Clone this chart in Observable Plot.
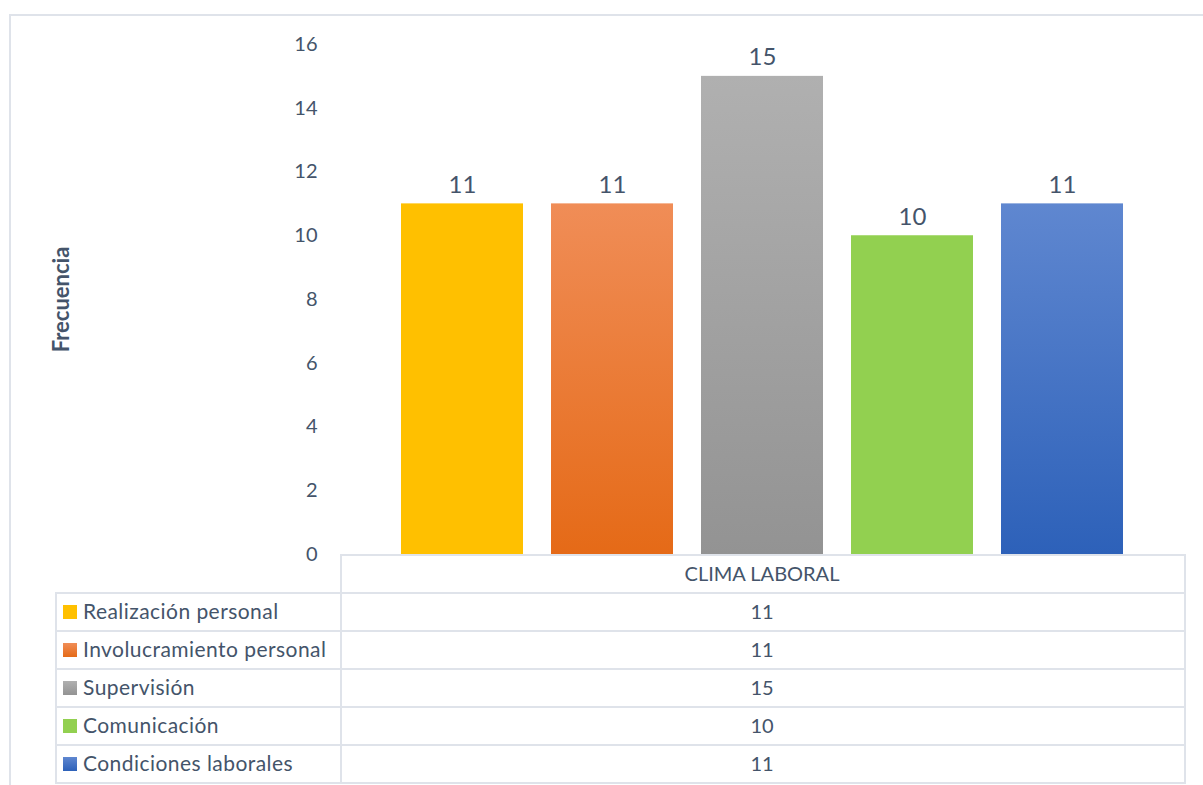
<!DOCTYPE html>
<html>
<head>
<meta charset="utf-8">
<script src="https://cdn.jsdelivr.net/npm/d3@7"></script>
<script src="https://cdn.jsdelivr.net/npm/@observablehq/plot@0.6"></script>
<style>
  html, body { margin: 0; padding: 0; background: #ffffff; }
  #wrap { position: relative; width: 1203px; height: 785px; overflow: hidden; font-family: Lato, "Open Sans", sans-serif; color: #44546a; }
  #chart { position: absolute; left: 0; top: 0; }
  .ln { position: absolute; background: #dfe3ea; }
  .txt { position: absolute; font-size: 20px; line-height: 38px; height: 38px; white-space: nowrap; }
  .leg { font-size: 21px; letter-spacing: 0.45px; }
  .sw { position: absolute; width: 14px; height: 14px; }
</style>
</head>
<body>
<div id="wrap">
  <div id="chart"></div>
</div>
<script>
// ---- data ----
const series = ["Realización personal", "Involucramiento personal", "Supervisión", "Comunicación", "Condiciones laborales"];
const values = [11, 11, 15, 10, 11];
const category = "CLIMA LABORAL";
const yTicks = [0, 2, 4, 6, 8, 10, 12, 14, 16];
const yLabel = "Frecuencia";
const colorTop = ["#ffc000", "#f08d57", "#b0b0b0", "#92d050", "#5f87d0"];
const colorBottom = ["#ffc000", "#e56a17", "#939393", "#92d050", "#2d61b9"];

const rows = series.map((name, i) => ({ name, value: values[i] }));

const defsMark = () => {
  const defs = d3.create("svg:defs");
  series.forEach((s, i) => {
    const g = defs.append("linearGradient")
      .attr("id", "grad" + i)
      .attr("x1", 0).attr("y1", 0).attr("x2", 0).attr("y2", 1);
    g.append("stop").attr("offset", "0%").attr("stop-color", colorTop[i]);
    g.append("stop").attr("offset", "100%").attr("stop-color", colorBottom[i]);
  });
  return defs.node();
};

const chart = Plot.plot({
  width: 1203,
  height: 560,
  marginLeft: 340,
  marginRight: 19,
  marginTop: 44,
  marginBottom: 6,
  style: { fontFamily: "Lato, 'Open Sans', sans-serif", fontSize: "20px", color: "#44546a", background: "transparent", overflow: "visible" },
  x: { domain: series, paddingInner: 0.19, paddingOuter: 0.4, axis: null },
  y: { domain: [0, 16], axis: null },
  color: { domain: series, range: series.map((d, i) => `url(#grad${i})`) },
  marks: [
    defsMark,
    Plot.axisY({ ticks: yTicks, tickSize: 0, tickPadding: 23, fontSize: 20, label: null, fill: "#44546a" }),
    Plot.barY(rows, { x: "name", y: "value", fill: "name", inset: 0 }),
    Plot.text(rows, { x: "name", y: "value", text: d => String(d.value), dy: -11, lineAnchor: "bottom", fontSize: 24, fill: "#44546a" }),
    Plot.text([yLabel], { frameAnchor: "left", text: d => d, dx: -279, rotate: -90, textAnchor: "middle", fontWeight: "bold", fontSize: 22, fill: "#44546a" })
  ]
});
document.getElementById("chart").appendChild(chart);

// ---- frame + data table ----
const wrap = document.getElementById("wrap");
function line(x, y, w, h) {
  const d = document.createElement("div");
  d.className = "ln";
  Object.assign(d.style, { left: x + "px", top: y + "px", width: w + "px", height: h + "px" });
  wrap.appendChild(d);
}
function text(str, x, y, w, align, cls) {
  const d = document.createElement("div");
  d.className = "txt" + (cls ? " " + cls : "");
  d.textContent = str;
  Object.assign(d.style, { left: x + "px", top: y + "px", width: w + "px", textAlign: align });
  wrap.appendChild(d);
}
// outer frame
line(9, 14, 1194, 2);
line(9, 14, 2, 771);

const tLeft = 55, tMid = 340, tRight = 1184, tTop = 554, rowH = 38;
// header row
line(tMid, tTop, tRight - tMid + 2, 2);
text(category, tMid, tTop, tRight - tMid, "center");
// body rows
series.forEach((s, i) => {
  const y = tTop + rowH * (i + 1);
  line(tLeft, y, tRight - tLeft + 2, 2);
  const sw = document.createElement("div");
  sw.className = "sw";
  Object.assign(sw.style, { left: "63px", top: (y + 13) + "px", background: `linear-gradient(${colorTop[i]}, ${colorBottom[i]})` });
  wrap.appendChild(sw);
  text(s, 83, y, 255, "left", "leg");
  text(String(values[i]), tMid, y, tRight - tMid, "center");
});
line(tLeft, tTop + rowH * 6, tRight - tLeft + 2, 2);
line(tLeft, tTop + rowH, 2, rowH * 5);
line(tMid, tTop, 2, rowH * 6);
line(tRight, tTop, 2, rowH * 6 + 2);
</script>
</body>
</html>
